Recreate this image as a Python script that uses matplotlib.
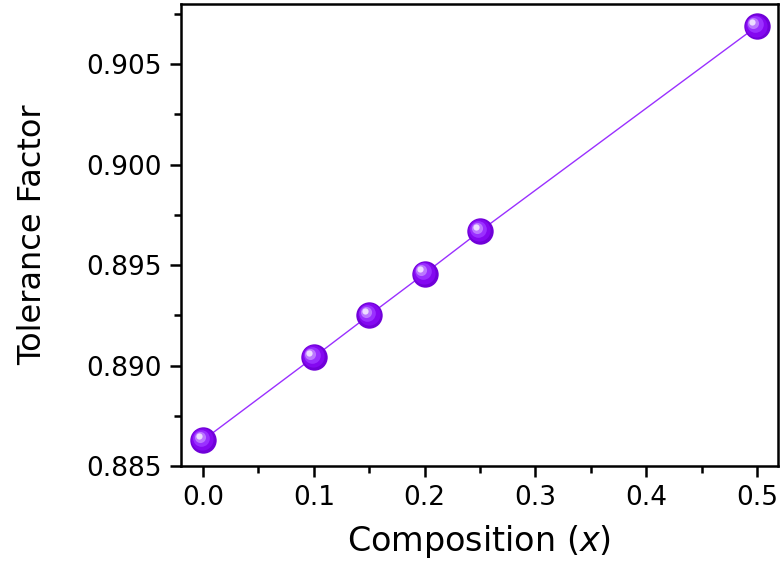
import matplotlib
matplotlib.use('Agg')
import matplotlib.pyplot as plt
import matplotlib.transforms as mtransforms
from matplotlib.ticker import MultipleLocator

plt.rcParams['font.family'] = ['DejaVu Sans']

# Composição e fator de tolerância
composicao = [0.0, 0.1, 0.15, 0.2, 0.25, 0.5]
tolerancia = [0.88629, 0.89042, 0.89251, 0.89458, 0.89669, 0.90689]

fig = plt.figure(figsize=(7.8, 5.66), dpi=100)
ax = fig.add_axes([0.232, 0.1767, 0.7654, 0.8162])

ax.plot(composicao, tolerancia, '-', color='#9a30ff', lw=1.0, zorder=2)

# esfera: camadas do escuro pro claro, deslocadas pra cima/esquerda
camadas = [
    (19, '#7000d8', 0, 0),
    (16, '#8408f0', -0.5, 0.5),
    (12, '#9a30ff', -1.5, 1.5),
    (8, '#bb77ff', -2.5, 2.5),
    (4.5, '#ecdcff', -3.2, 3.2),
]
for tam, cor, dx, dy in camadas:
    trans = mtransforms.offset_copy(ax.transData, fig=fig, x=dx, y=dy, units='points')
    ax.plot(composicao, tolerancia, 'o', ms=tam, color=cor, mec='none',
            transform=trans, zorder=3, clip_on=False)

ax.set_xlim(-0.02, 0.519)
ax.set_ylim(0.885, 0.908)
ax.xaxis.set_major_locator(MultipleLocator(0.1))
ax.xaxis.set_minor_locator(MultipleLocator(0.05))
ax.yaxis.set_major_locator(MultipleLocator(0.005))
ax.yaxis.set_minor_locator(MultipleLocator(0.0025))
ax.xaxis.set_major_formatter(plt.FuncFormatter(lambda v, p: f'{v:.1f}'))
ax.yaxis.set_major_formatter(plt.FuncFormatter(lambda v, p: f'{v:.3f}'))

for s in ax.spines.values():
    s.set_linewidth(1.8)
ax.tick_params(which='both', direction='out', width=1.8, top=False, right=False)
ax.tick_params(which='major', length=8, labelsize=19, pad=6)
ax.tick_params(which='minor', length=5)

ax.set_xlabel('Composition ($\\it{x}$)', fontsize=24, labelpad=8)
ax.set_ylabel('Tolerance Factor', fontsize=23, labelpad=27)

fig.savefig('out.png', dpi=100)
